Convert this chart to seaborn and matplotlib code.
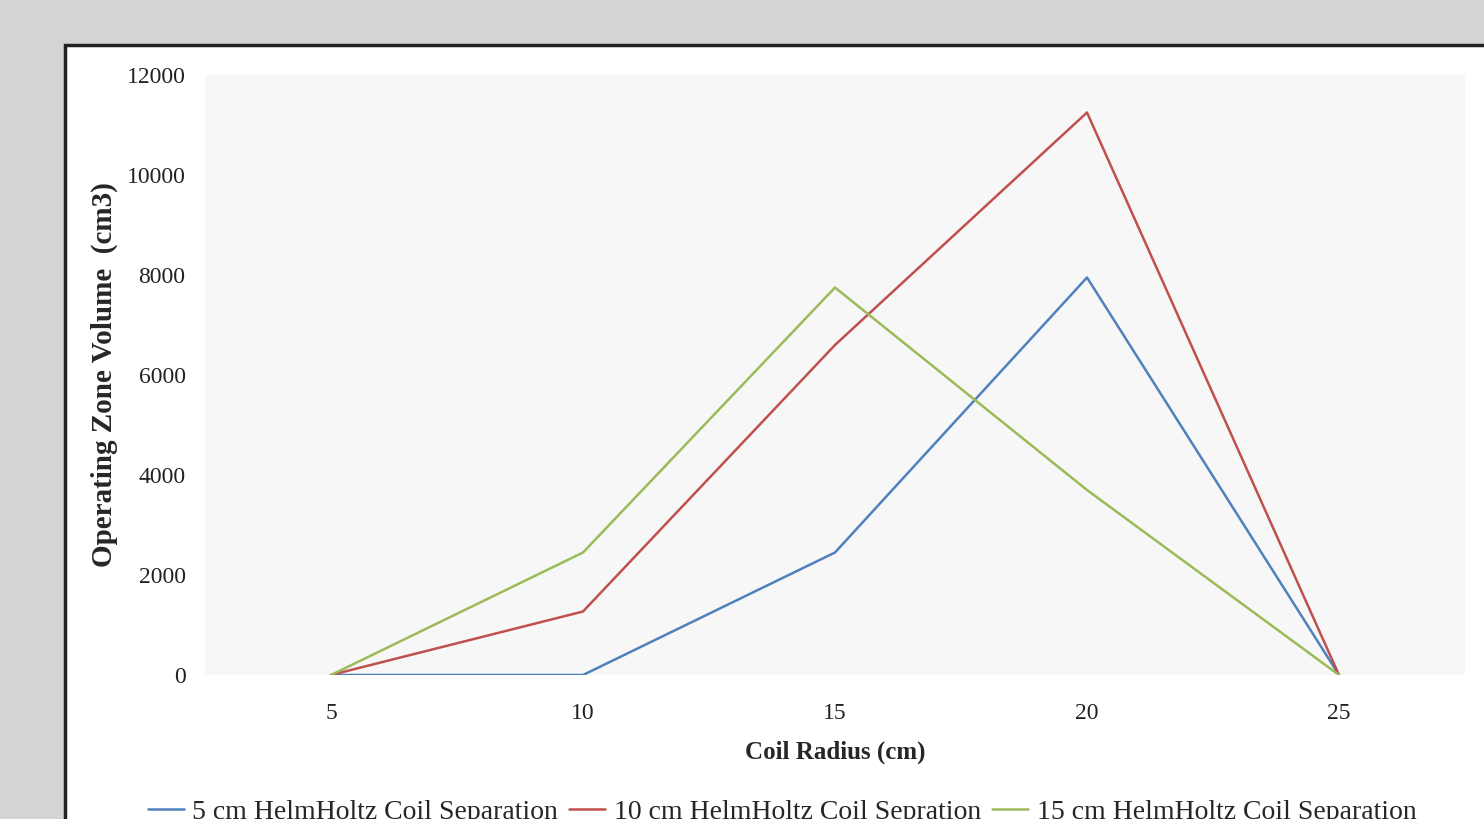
import matplotlib
matplotlib.use("Agg")
import matplotlib.pyplot as plt
from matplotlib.patches import Rectangle
import pandas as pd
import seaborn as sns

# 数据
radius = [5, 10, 15, 20, 25]
sep_5cm = [0, 0, 2450, 7950, 0]
sep_10cm = [0, 1270, 6600, 11250, 0]
sep_15cm = [0, 2450, 7750, 3700, 0]
series_names = ["5 cm HelmHoltz Coil Separation",
                "10 cm HelmHoltz Coil Sepration",
                "15 cm HelmHoltz Coil Separation"]
colors = ["#4f81bd", "#c0504d", "#9bbb59"]

df = pd.concat([
    pd.DataFrame({"radius": radius, "volume": vals, "series": name})
    for name, vals in zip(series_names, [sep_5cm, sep_10cm, sep_15cm])
], ignore_index=True)

sns.set_theme(style="white")
plt.rcParams["font.family"] = ["Liberation Serif", "DejaVu Serif"]

fig = plt.figure(figsize=(14.84, 8.19), dpi=100)
fig.patch.set_facecolor("#d4d4d4")
# 白色图表区域（右下角被裁掉）
fig.patches.append(Rectangle((65 / 1484, -0.2), 1.0, 1.2 - 45 / 819,
                             transform=fig.transFigure, facecolor="white",
                             edgecolor="#222222", linewidth=2.5, zorder=-5))

ax = fig.add_axes([205 / 1484, 1 - 675 / 819, 1260 / 1484, 600 / 819])
ax.set_zorder(2)
ax.set_facecolor("#f7f7f7")
sns.lineplot(data=df, x="radius", y="volume", hue="series",
             palette=colors, linewidth=1.8, ax=ax)

ax.set_xlim(2.5, 27.5)
ax.set_ylim(0, 12000)
ax.set_xticks(radius)
ax.set_yticks(range(0, 12001, 2000))
ax.tick_params(axis="both", length=0, labelsize=17, labelcolor="#222222")
ax.tick_params(axis="x", pad=20)
ax.tick_params(axis="y", pad=14)
for s in ax.spines.values():
    s.set_visible(False)
ax.set_xlabel("Coil Radius (cm)", fontsize=18, fontweight="bold",
              labelpad=12)
ax.set_ylabel("Operating Zone Volume  (cm3)", fontsize=21,
              fontweight="bold", labelpad=6)

handles, labels = ax.get_legend_handles_labels()
ax.get_legend().remove()
fig.legend(handles, labels, loc="center", bbox_to_anchor=(0.527, 0.008),
           ncol=3, frameon=False, fontsize=20, handlelength=1.3,
           handletextpad=0.3, columnspacing=0.4)

fig.savefig("out.png", dpi=100, facecolor=fig.get_facecolor())
